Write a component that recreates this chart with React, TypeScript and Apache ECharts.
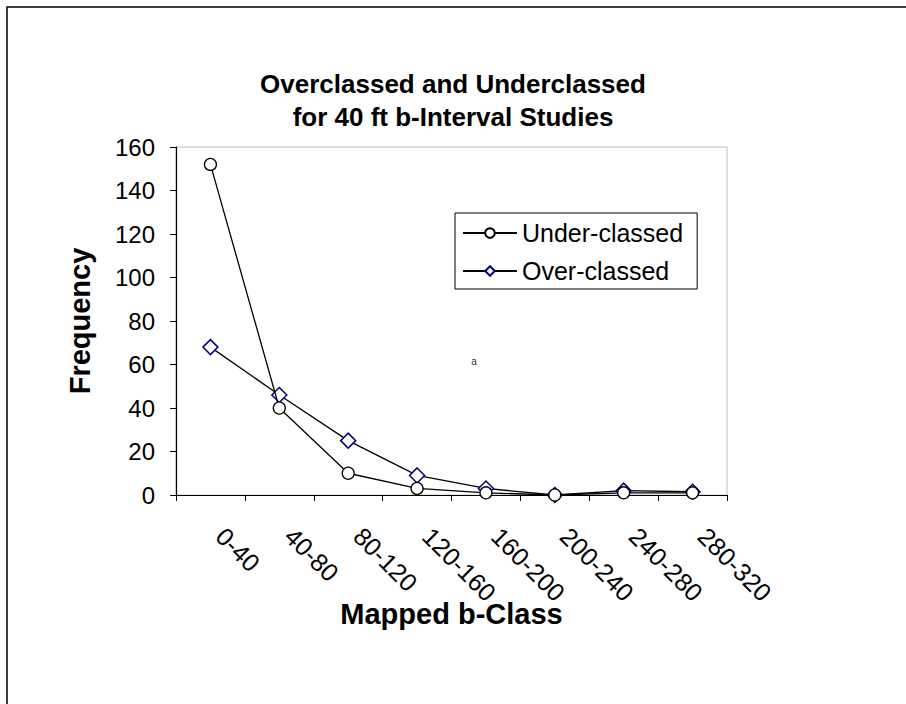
import React, { useEffect, useRef } from "react";
import * as echarts from "echarts";

const categories = ["0-40", "40-80", "80-120", "120-160", "160-200", "200-240", "240-280", "280-320"];
const underClassed = [152, 40, 10, 3, 1, 0, 1, 1];
const overClassed = [68, 46, 25, 9, 3, 0, 2, 1.5];
const titleLines = ["Overclassed and Underclassed", "for 40 ft b-Interval Studies"];
const yTitle = "Frequency";
const xTitle = "Mapped b-Class";

const FONT = "'Liberation Sans', Arial, Helvetica, sans-serif";

export default function App() {
  const ref = useRef<HTMLDivElement>(null);
  useEffect(() => {
    if (!ref.current) return;
    const chart = echarts.init(ref.current, null, { renderer: "svg" });
    const titleStyle = { fontFamily: FONT, fontSize: 26, fontWeight: "bold", color: "#000" };
    chart.setOption({
      animation: false,
      backgroundColor: "#ffffff",
      textStyle: { fontFamily: FONT },
      title: [
        { text: titleLines[0], left: "center", top: 66, textStyle: titleStyle },
        { text: titleLines[1], left: "center", top: 99, textStyle: titleStyle },
      ],
      grid: {
        left: 176,
        top: 147,
        width: 551,
        height: 348,
        show: true,
        borderColor: "#c0c0c0",
        borderWidth: 1,
        backgroundColor: "#fff",
      },
      legend: {
        orient: "vertical",
        left: 455,
        top: 213,
        backgroundColor: "#fff",
        borderColor: "#000",
        borderWidth: 1,
        borderRadius: 0,
        padding: [6, 14, 4, 7],
        itemWidth: 54,
        itemHeight: 12,
        itemGap: 10,
        textStyle: { fontFamily: FONT, fontSize: 25, color: "#000", lineHeight: 28 },
        data: ["Under-classed", "Over-classed"],
      },
      xAxis: {
        type: "category",
        data: categories,
        boundaryGap: true,
        name: xTitle,
        nameLocation: "middle",
        nameGap: 104,
        nameMoveOverlap: false,
        nameTextStyle: { fontFamily: FONT, fontSize: 29, fontWeight: "bold", color: "#000" },
        axisLine: { lineStyle: { color: "#000", width: 1.2 } },
        axisTick: { show: true, length: 6, interval: 0, alignWithLabel: false, lineStyle: { color: "#000" } },
        axisLabel: {
          rotate: -45,
          margin: 27,
          interval: 0,
          padding: [0, 0, 0, 14],
          fontFamily: FONT,
          fontSize: 25,
          color: "#000",
        },
        splitLine: { show: false },
      },
      yAxis: {
        type: "value",
        min: 0,
        max: 160,
        interval: 20,
        name: yTitle,
        nameLocation: "middle",
        nameGap: 82,
        nameRotate: 90,
        nameMoveOverlap: false,
        nameTextStyle: { fontFamily: FONT, fontSize: 29, fontWeight: "bold", color: "#000" },
        axisLine: { show: true, lineStyle: { color: "#000", width: 1.2 } },
        axisTick: { show: true, length: 6, lineStyle: { color: "#000" } },
        axisLabel: { margin: 21, fontFamily: FONT, fontSize: 24, color: "#000" },
        splitLine: { show: false },
      },
      series: [
        {
          name: "Under-classed",
          type: "line",
          data: underClassed,
          symbol: "circle",
          symbolSize: 12,
          showAllSymbol: true,
          lineStyle: { color: "#000", width: 1.3 },
          itemStyle: { color: "#fff", borderColor: "#000", borderWidth: 1.3 },
          z: 3,
        },
        {
          name: "Over-classed",
          type: "line",
          data: overClassed,
          symbol: "diamond",
          symbolSize: 15,
          showAllSymbol: true,
          lineStyle: { color: "#000", width: 1.3 },
          itemStyle: { color: "#fff", borderColor: "#000080", borderWidth: 1.5 },
          z: 2,
        },
      ],
      graphic: [
        {
          type: "rect",
          shape: { x: 7, y: 7, width: 1000, height: 1000 },
          style: { fill: "none", stroke: "#000", lineWidth: 1.5 },
          silent: true,
          z: 100,
        },
        {
          type: "text",
          x: 474,
          y: 361,
          style: { text: "a", fontFamily: FONT, fontSize: 10, fill: "#333", align: "center", verticalAlign: "middle" },
          z: 100,
        },
      ],
    });
    return () => chart.dispose();
  }, []);
  return (
    <div
      ref={ref}
      style={{ position: "absolute", left: 0, top: 0, width: 906, height: 704 }}
    />
  );
}
